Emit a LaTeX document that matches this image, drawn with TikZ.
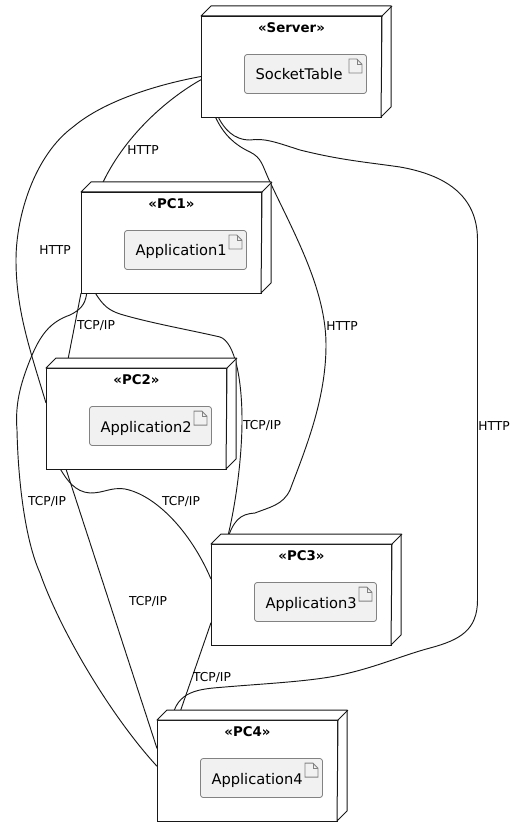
\documentclass[tikz,border=0pt]{standalone}
\usepackage{fontspec}
\setmainfont{DejaVu Sans}
\usetikzlibrary{positioning}
\definecolor{edge_dark}{RGB}{24,24,24}
\definecolor{edge_gray}{RGB}{130,130,130}
\definecolor{node_gray}{RGB}{241,241,241}
\newcommand\depthbox[1]{\draw[edge_dark,line width=0.75pt,fill=white,line join=round] (#1.north west) -- ++(10,-10) -- ++(180,0) -- ++(0,101) -- ++(-10,10) -- (#1.north east) -- cycle;
    \draw[edge_dark,line width=0.75pt] (#1.north east) -- ++(10,-10);}
\newcommand\fileicon[1]{\draw[edge_gray,line width=0.6pt,fill=node_gray] (#1.north east) ++(-18,5) -- ++(8,0) -- ++(5,5) -- ++(0,9) -- ++(-13,0) -- cycle;
    \draw[edge_gray,line width=0.6pt] (#1.north east) ++(-10,5) -- ++(0,5) -- ++(5,0);}

\begin{document}
\begin{tikzpicture}[x=0.75pt,y=-0.75pt]
    \tikzstyle{device}=[draw=edge_dark, line width=0.75pt, fill=white, inner sep=0pt, minimum width=135pt, minimum height=75.75pt]
    \tikzstyle{devtitle}=[inner sep=0pt, text=black, font=\fontsize{10}{12}\selectfont\bfseries]
    \tikzstyle{artifact}=[draw=edge_gray, line width=0.6pt, fill=node_gray, rounded corners=2pt, inner xsep=8.25pt, inner ysep=0pt, text width=75pt, align=left, minimum height=29.25pt, text height=9pt, text depth=0pt, text=black, font=\fontsize{11}{13}\selectfont]
    \tikzstyle{proto}=[inner sep=0pt, text=black, font=\fontsize{9.2}{11}\selectfont]
    \tikzstyle{link}=[edge_dark, line width=0.7pt]

    \useasboundingbox (0,0) rectangle (518,837);

    \node[device]   (Server) at (291.5,67)  {};
    \node[device]   (PC1)    at (171.5,243) {};
    \node[device]   (PC2)    at (136.5,419) {};
    \node[device]   (PC3)    at (301.5,595) {};
    \node[device]   (PC4)    at (247.5,771) {};

    \node[devtitle,below=4.6pt of Server.north] (ServerT) {«Server»};
    \node[devtitle,below=4.6pt of PC1.north]    (PC1T)    {«PC1»};
    \node[devtitle,below=4.6pt of PC2.north]    (PC2T)    {«PC2»};
    \node[devtitle,below=4.6pt of PC3.north]    (PC3T)    {«PC3»};
    \node[devtitle,below=4.6pt of PC4.north]    (PC4T)    {«PC4»};

    \node[artifact] (Table) at (305.5,74)  {SocketTable};
    \node[artifact] (App1)  at (185.5,250) {Application1};
    \node[artifact] (App2)  at (150.5,426) {Application2};
    \node[artifact] (App3)  at (315.5,602) {Application3};
    \node[artifact] (App4)  at (261.5,778) {Application4};
    \fileicon{Table}
    \fileicon{App1}
    \fileicon{App2}
    \fileicon{App3}
    \fileicon{App4}

    % HTTP links
    \draw[link] (Server.188.5) .. controls (165,100) and (120,140) .. (PC1.145.7);
    \draw[link] (Server.186) .. controls (160,84) and (105,100) .. (73,127)
      .. controls (35,155) and (16,215) .. (16,260)
      .. controls (16,310) and (30,350) .. (PC2.170.85);
    \draw[link] (Server.214.5) .. controls (224,135) and (235,145) .. (250,152)
      .. controls (262,158) and (262,165) .. (270,182)
      .. controls (295,235) and (326,290) .. (326,345)
      .. controls (326,400) and (305,450) .. (290,490)
      .. controls (283,505) and (270,507) .. (255,513)
      .. controls (240,514) and (233,520) .. (PC3.146);
    \draw[link] (Server.215.5) .. controls (224,128) and (233,140) .. (250,140)
      .. controls (265,138) and (275,142) .. (300,150)
      .. controls (340,160) and (365,162) .. (400,167)
      .. controls (445,175) and (477.5,195) .. (477.5,240)
      -- (477.5,600)
      .. controls (477.5,630) and (460,640) .. (430,648)
      .. controls (400,656) and (370,670) .. (330,677)
      .. controls (300,682) and (260,684) .. (225,687)
      .. controls (200,689) and (176,690) .. (PC4.146.4);

    % TCP/IP links
    \draw[link] (PC1.209.7) -- (PC2.144.4);
    \draw[link] (PC1.214.7) .. controls (103,305) and (108,310) .. (120,314)
      .. controls (150,323) and (190,330) .. (220,337)
      .. controls (235,342) and (242,380) .. (242,420)
      .. controls (242,460) and (235,510) .. (PC3.146);
    \draw[link] (PC1.211.3) .. controls (85,305) and (80,310) .. (70,315)
      .. controls (50,322) and (40,335) .. (30,360)
      .. controls (20,385) and (15,405) .. (17,430)
      .. controls (18,480) and (25,540) .. (40,573)
      .. controls (60,630) and (110,715) .. (PC4.177.8);
    \draw[link] (PC2.214.3) .. controls (67,480) and (75,492) .. (90,493)
      .. controls (105,493) and (110,487) .. (125,489)
      .. controls (155,495) and (190,530) .. (PC3.170.2);
    \draw[link] (PC2.216.6) -- (PC4.166);
    \draw[link] (PC3.197) -- (PC4.144.4);

    \depthbox{Server}
    \depthbox{PC1}
    \depthbox{PC2}
    \depthbox{PC3}
    \depthbox{PC4}

    \node[proto] (http1) at (143,150) {HTTP};
    \node[proto] (http2) at (55,250)  {HTTP};
    \node[proto] (http3) at (342,326) {HTTP};
    \node[proto] (http4) at (494,426) {HTTP};
    \node[proto] (tcp1)  at (96,326)  {TCP/IP};
    \node[proto] (tcp2)  at (262,426) {TCP/IP};
    \node[proto] (tcp3)  at (47,502)  {TCP/IP};
    \node[proto] (tcp4)  at (181,502) {TCP/IP};
    \node[proto] (tcp5)  at (148,602) {TCP/IP};
    \node[proto] (tcp6)  at (212,678) {TCP/IP};
  \end{tikzpicture}
\end{document}
